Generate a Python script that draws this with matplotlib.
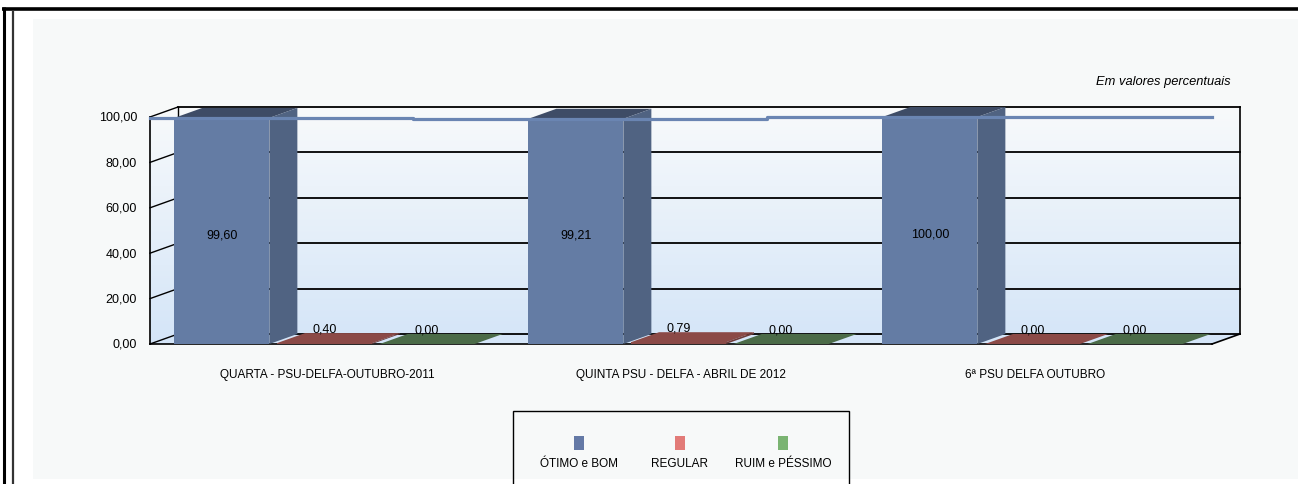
import matplotlib
matplotlib.use("Agg")
import matplotlib.pyplot as plt
from matplotlib.patches import Polygon, Rectangle
import numpy as np

plt.rcParams['font.family'] = ['Liberation Sans', 'DejaVu Sans']

# === Data ===
categories = ["QUARTA - PSU-DELFA-OUTUBRO-2011",
              "QUINTA PSU - DELFA - ABRIL DE 2012",
              "6ª PSU DELFA OUTUBRO"]
series_names = ["ÓTIMO e BOM", "REGULAR", "RUIM e PÉSSIMO"]
otimo_bom = [99.60, 99.21, 100.00]
regular = [0.40, 0.79, 0.00]
ruim_pessimo = [0.00, 0.00, 0.00]
yticks = [0, 20, 40, 60, 80, 100]
note = "Em valores percentuais"

series_values = [otimo_bom, regular, ruim_pessimo]

# === Styles ===
front_cols = ["#647ca4", "#8b4a47", "#4b6b48"]
side_cols = ["#506382", "#6f3b39", "#3c563a"]
top_cols = ["#3e4c66", "#8b4a47", "#4b6b48"]
legend_cols = ["#6479a6", "#e27b78", "#7ab472"]

# === Layout (pixels -> data) ===
W, H = 1298, 485
px_x0 = 150          # front left of plot (x = -0.5)
px_cat = 354         # pixels per category
px_y0 = 345          # front floor (y = 0)
px_unit = 2.27       # pixels per percentage point
ddx = 28 / px_cat    # depth offset in x units
ddy = 10 / px_unit   # depth offset in y units
bar_w = 95 / px_cat
offsets = (np.arange(3) - 1) * 0.29 - 0.007

fig = plt.figure(figsize=(W / 100, H / 100), dpi=100)
fig.patch.set_facecolor("white")
ax = fig.add_axes([0, 0, 1, 1])
ax.set_axis_off()

def fx(px):
    return px / W

def fy(py):
    return 1 - py / H

# frame and panel background
ax.add_patch(Rectangle((fx(33), fy(480)), fx(W) - fx(33), fy(20) - fy(480),
                       transform=ax.transAxes, facecolor="#f7f9f9", edgecolor="none", zorder=0))
ax.plot([fx(2), fx(W)], [fy(9.5), fy(9.5)], transform=ax.transAxes, color="black", lw=2.6, zorder=10,
        solid_capstyle="butt")
ax.plot([fx(3.5), fx(3.5)], [fy(8), fy(H)], transform=ax.transAxes, color="black", lw=2.2, zorder=10,
        solid_capstyle="butt")
ax.plot([fx(13), fx(13)], [fy(11), fy(H)], transform=ax.transAxes, color="#333333", lw=1.6, zorder=10,
        solid_capstyle="butt")

# === Back wall / side wall / floor gradient ===
x_left, x_right = -0.5, len(categories) - 0.5
top = max(yticks)
grad = np.linspace(np.array([212, 229, 248]) / 255, np.array([248, 250, 251]) / 255, 256)
grad = grad[:, None, :]
im = ax.imshow(grad, extent=[x_left, x_right + ddx, 0, top + ddy], origin="lower",
               aspect="auto", zorder=1, interpolation="bilinear")
wall = Polygon([(x_left, 0), (x_left, top), (x_left + ddx, top + ddy), (x_right + ddx, top + ddy),
                (x_right + ddx, ddy), (x_right, 0)], closed=True, transform=ax.transData)
im.set_clip_path(wall)

# gridlines on back wall and tick diagonals
for t in yticks:
    ax.plot([x_left + ddx, x_right + ddx], [t + ddy, t + ddy], color="black", lw=1.3, zorder=2)
    ax.plot([x_left, x_left + ddx], [t, t + ddy], color="black", lw=1.0, zorder=2)
    ax.text(x_left - 13 / px_cat, t, f"{t:.2f}".replace(".", ","), ha="right", va="center",
            fontsize=9, zorder=6)

# wall edges
ax.plot([x_left, x_left], [0, top], color="black", lw=1.2, zorder=2)
ax.plot([x_left + ddx, x_left + ddx], [ddy, top + ddy], color="black", lw=1.0, zorder=2)
ax.plot([x_right + ddx, x_right + ddx], [ddy, top + ddy], color="black", lw=1.2, zorder=2)
ax.plot([x_left, x_right], [0, 0], color="black", lw=1.2, zorder=2)
ax.plot([x_right, x_right + ddx], [0, ddy], color="black", lw=1.2, zorder=2)

# === 3D bars ===
for j in range(len(categories)):
    for i, vals in enumerate(series_values):
        v = vals[j]
        x0 = j + offsets[i] - bar_w / 2
        x1 = x0 + bar_w
        ax.add_patch(Polygon([(x0, v), (x0 + ddx, v + ddy), (x1 + ddx, v + ddy), (x1, v)],
                             closed=True, facecolor=top_cols[i], edgecolor="none", zorder=3))
        ax.add_patch(Polygon([(x1, 0), (x1 + ddx, ddy), (x1 + ddx, v + ddy), (x1, v)],
                             closed=True, facecolor=side_cols[i], edgecolor="none", zorder=3))
        ax.add_patch(Rectangle((x0, 0), bar_w, v, facecolor=front_cols[i], edgecolor="none", zorder=3))
        label = f"{v:.2f}".replace(".", ",")
        if v > 20:
            ax.text(x0 + bar_w / 2, v * 0.485, label, ha="center", va="center", fontsize=9, zorder=6)
        else:
            ax.text(x0 + bar_w / 2, v + 6.3, label, ha="center", va="center", fontsize=9, zorder=6)

# line along the top of the first series
line_x = [x_left] + [j + offsets[0] + ddx / 2 for j in range(len(categories))] + [x_right]
line_y = [otimo_bom[0]] + otimo_bom + [otimo_bom[-1]]
ax.plot(line_x, line_y, drawstyle="steps-mid", color="#6a85b2", lw=2.3, zorder=5)

# category labels
for j, cat in enumerate(categories):
    ax.text(j, -13.2, cat, ha="center", va="center", fontsize=8.5, zorder=6)

# note
ax.text(fx(1231), fy(82), note, transform=ax.transAxes, ha="right", va="center",
        fontsize=9.3, style="italic", zorder=6)

# === Legend ===
ax.add_patch(Rectangle((fx(513), fy(490)), fx(849) - fx(513), fy(412) - fy(490), transform=ax.transAxes,
                       facecolor="none", edgecolor="black", lw=1.0, zorder=6, clip_on=False))
leg_x = [579, 680, 783]
for i, name in enumerate(series_names):
    ax.add_patch(Rectangle((fx(leg_x[i] - 5), fy(451)), 10 / W, 14 / H, transform=ax.transAxes,
                           facecolor=legend_cols[i], edgecolor="none", zorder=6))
    ax.text(fx(leg_x[i]), fy(464), name, transform=ax.transAxes, ha="center", va="center",
            fontsize=8.5, zorder=6)

ax.set_xlim(x_left - px_x0 / px_cat, x_left + (W - px_x0) / px_cat)
ax.set_ylim(-(H - px_y0) / px_unit, px_y0 / px_unit)

fig.savefig("out.png", dpi=100, facecolor=fig.get_facecolor())
